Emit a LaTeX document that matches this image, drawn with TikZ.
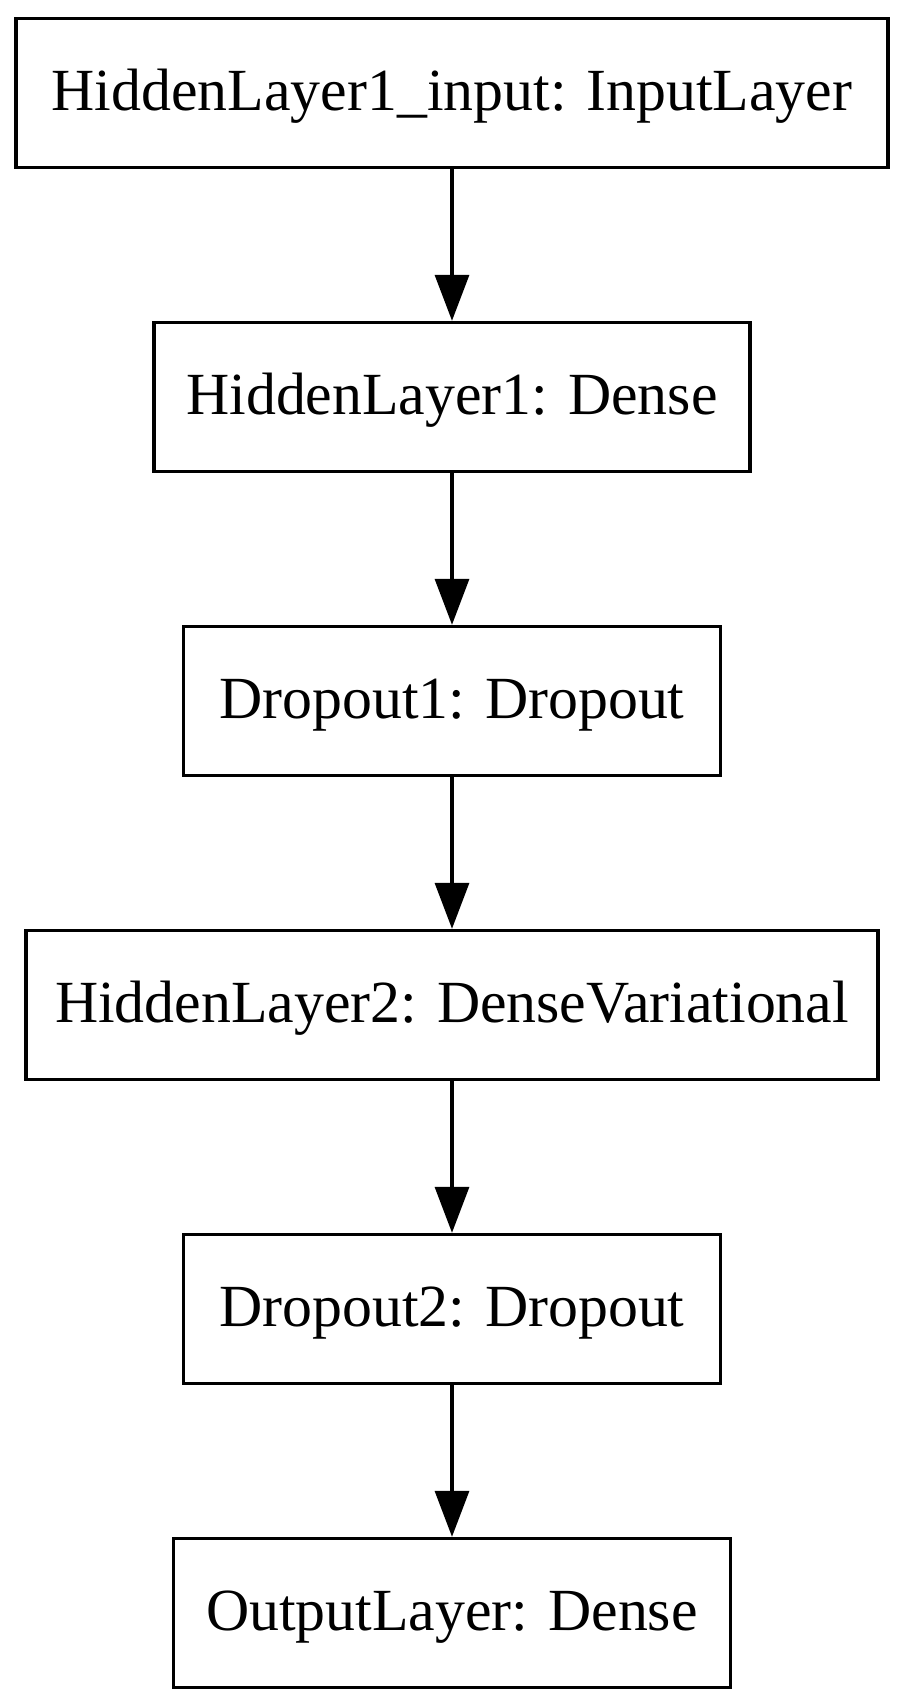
\documentclass[tikz,border=0pt]{standalone}
\usepackage{fontspec}
\setmainfont{Liberation Serif}
\usetikzlibrary{arrows.meta}
\begin{document}
\begin{tikzpicture}[x=1pt,y=-1pt,
  layer/.style={draw=black,line width=3.4pt,rectangle,inner sep=0pt,
    minimum height=149pt,text height=44pt,text depth=10pt,
    font=\fontsize{59.8}{72}\selectfont},
  flow/.style={line width=3.4pt,-{Triangle[length=46pt,width=34pt]}}]
\useasboundingbox (0,0) rectangle (904,1708);
\node[layer,minimum width=872pt] (b1) at (452,93)   {HiddenLayer1\_input: InputLayer};
\node[layer,minimum width=596pt] (b2) at (452,397)  {HiddenLayer1: Dense};
\node[layer,minimum width=537pt] (b3) at (452,701)  {Dropout1: Dropout};
\node[layer,minimum width=852pt] (b4) at (452,1005) {HiddenLayer2: DenseVariational};
\node[layer,minimum width=537pt] (b5) at (452,1309) {Dropout2: Dropout};
\node[layer,minimum width=557pt] (b6) at (452,1613) {OutputLayer: Dense};
\draw[flow] (b1.south) -- (b2.north);
\draw[flow] (b2.south) -- (b3.north);
\draw[flow] (b3.south) -- (b4.north);
\draw[flow] (b4.south) -- (b5.north);
\draw[flow] (b5.south) -- (b6.north);
\end{tikzpicture}
\end{document}
